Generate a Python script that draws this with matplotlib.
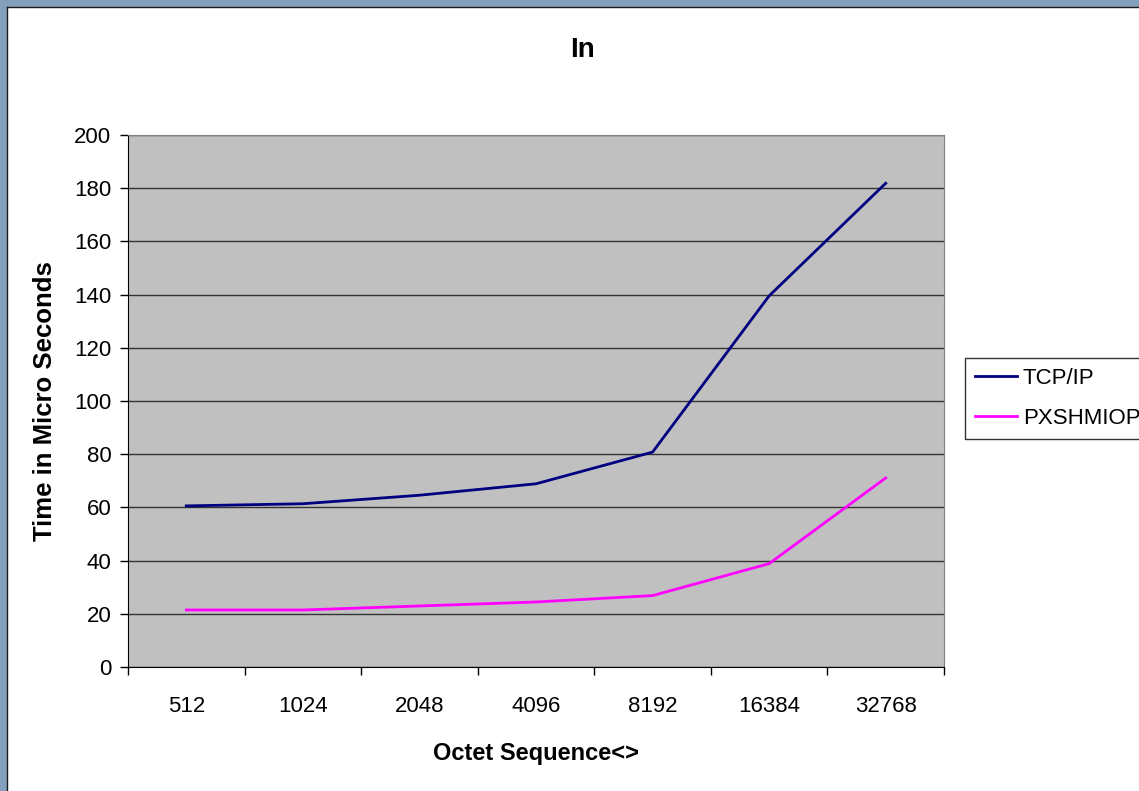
import matplotlib.pyplot as plt
import numpy as np
from matplotlib.patches import Rectangle

# data
sizes = ['512', '1024', '2048', '4096', '8192', '16384', '32768']
tcp_ip = [60.6, 61.4, 64.6, 68.9, 80.8, 139.5, 181.8]
pxshmiop = [21.5, 21.5, 23.0, 24.5, 26.9, 38.9, 71.1]

plt.rcParams['font.family'] = ['Liberation Sans', 'DejaVu Sans']

fig = plt.figure(figsize=(11.39, 7.91), dpi=100)
W, H = 1139, 791
ax = fig.add_axes([128 / W, 1 - 667.2 / H, (944 - 128) / W, (667.2 - 134.8) / H])

# window-like frame on left and top
fig.add_artist(Rectangle((0, 0), 6 / W, 1, transform=fig.transFigure, color='#829FBB', zorder=0))
fig.add_artist(Rectangle((0, 1 - 6 / H), 1, 6 / H, transform=fig.transFigure, color='#829FBB', zorder=0))
fig.add_artist(plt.Line2D([6.5 / W, 6.5 / W], [0, 1 - 6.5 / H], transform=fig.transFigure, color='#1a1a1a', lw=1))
fig.add_artist(plt.Line2D([6.5 / W, 1], [1 - 6.5 / H, 1 - 6.5 / H], transform=fig.transFigure, color='#1a1a1a', lw=1))

x = np.arange(len(sizes))
ax.set_facecolor('#C0C0C0')
ax.plot(x, tcp_ip, color='#000080', lw=2, label='TCP/IP', zorder=3)
ax.plot(x, pxshmiop, color='#FF00FF', lw=2, label='PXSHMIOP', zorder=3)

ax.set_xlim(-0.5, len(sizes) - 0.5)
ax.set_ylim(0, 200)
ax.set_yticks(np.arange(0, 201, 20))
ax.yaxis.grid(True, color='#333333', lw=1)
ax.set_axisbelow(True)
ax.tick_params(axis='y', labelsize=16, length=6, width=1, pad=6, direction='out')

ax.set_xticks(x)
ax.set_xticklabels(sizes)
ax.set_xticks(np.arange(-0.5, len(sizes)), minor=True)
ax.tick_params(axis='x', which='major', length=0, labelsize=16, pad=21)
ax.tick_params(axis='x', which='minor', length=6, width=1, direction='out')

for s in ['top', 'right']:
    ax.spines[s].set_color('#808080')
for s in ['left', 'bottom']:
    ax.spines[s].set_color('black')

fig.text(582 / W, 1 - 50 / H, 'In', fontsize=20, fontweight='bold', ha='center', va='center')
ax.set_xlabel('Octet Sequence<>', fontsize=17, fontweight='bold', labelpad=18)
ax.set_ylabel('Time in Micro Seconds', fontsize=18.5, fontweight='bold', labelpad=12)

leg = fig.legend(loc='upper left', bbox_to_anchor=(965 / W, 1 - 358 / H),
                 fontsize=16, frameon=True, fancybox=False, edgecolor='black',
                 handlelength=1.9, handletextpad=0.25, borderpad=0.45,
                 labelspacing=0.85, borderaxespad=0)
leg.get_frame().set_linewidth(1)

fig.savefig('out.png', dpi=100, facecolor='white')
